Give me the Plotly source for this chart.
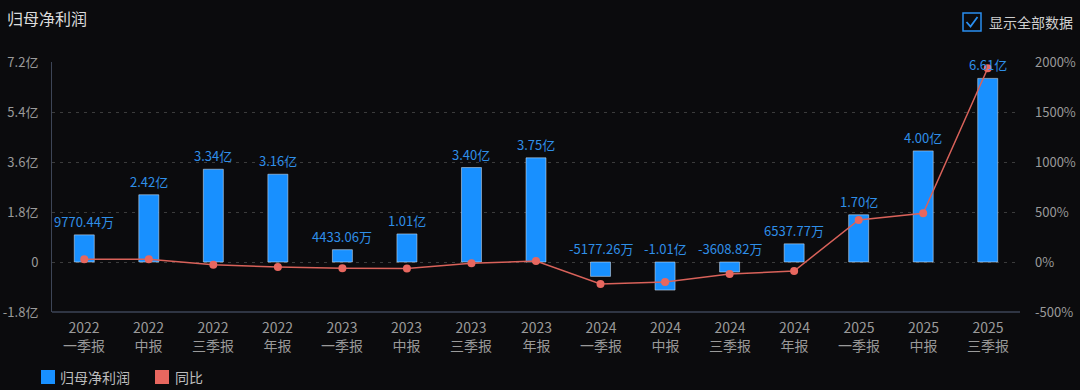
import plotly.graph_objects as go

# ---------------- data ----------------
years = ["2022", "2022", "2022", "2022", "2023", "2023", "2023", "2023",
         "2024", "2024", "2024", "2024", "2025", "2025", "2025"]
periods = ["一季报", "中报", "三季报", "年报", "一季报", "中报", "三季报", "年报",
           "一季报", "中报", "三季报", "年报", "一季报", "中报", "三季报"]
profit_yi = [0.977044, 2.42, 3.34, 3.16, 0.443306, 1.01, 3.40, 3.75,
             -0.517726, -1.01, -0.360882, 0.653777, 1.70, 4.00, 6.61]
profit_labels = ["9770.44万", "2.42亿", "3.34亿", "3.16亿", "4433.06万", "1.01亿",
                 "3.40亿", "3.75亿", "-5177.26万", "-1.01亿", "-3608.82万",
                 "6537.77万", "1.70亿", "4.00亿", "6.61亿"]
yoy_pct = [27, 28, -27, -50, -63, -65, -13, 10, -220, -200, -120, -90, 420, 487, 1937]
left_ticks = [-1.8, 0, 1.8, 3.6, 5.4, 7.2]
left_tick_text = ["-1.8亿", "0", "1.8亿", "3.6亿", "5.4亿", "7.2亿"]
right_ticks = [-500, 0, 500, 1000, 1500, 2000]
right_tick_text = ["-500%", "0%", "500%", "1000%", "1500%", "2000%"]

cats = [f"{y}<br>{p}" for y, p in zip(years, periods)]

FONT = "Noto Sans CJK SC"
BG = "#0b0b0d"
BAR = "#1890ff"
LINE = "#d9625a"
LABEL = "#2f8fe8"
TICK = "#9a9a9a"

W, H = 1080, 390
L, R, T, B = 52, 60, 62, 78
PW, PH = W - L - R, H - T - B


def px(x):
    return (x - L) / PW


def py(y):
    return (H - B - y) / PH


fig = go.Figure()
fig.add_trace(go.Bar(x=cats, y=profit_yi, marker_color=BAR, width=0.31,
                     name="归母净利润", showlegend=False))
fig.add_trace(go.Scatter(x=cats, y=yoy_pct, yaxis="y2", mode="lines+markers",
                         line=dict(color=LINE, width=1.5),
                         marker=dict(color="#e8675f", size=8),
                         name="同比", showlegend=False))

ann = []
# bar value labels
for c, v, t in zip(cats, profit_yi, profit_labels):
    ann.append(dict(x=c, y=max(v, 0), xref="x", yref="y", text=t, showarrow=False,
                    yanchor="bottom", yshift=2,
                    font=dict(family=FONT, size=13, color=LABEL)))
# two-line category labels
for c in cats:
    ann.append(dict(x=c, y=py(336), xref="x", yref="paper", text=c, showarrow=False,
                    yanchor="middle", font=dict(family=FONT, size=14, color=TICK)))
# title
ann.append(dict(x=px(5), y=py(18), xref="paper", yref="paper", text="归母净利润",
                showarrow=False, xanchor="left", yanchor="middle",
                font=dict(family=FONT, size=16, color="#dcdcdc")))
# checkbox text
ann.append(dict(x=px(987), y=py(22), xref="paper", yref="paper", text="显示全部数据",
                showarrow=False, xanchor="left", yanchor="middle",
                font=dict(family=FONT, size=14, color="#cfcfcf")))
# bottom legend texts
ann.append(dict(x=px(58), y=py(377), xref="paper", yref="paper", text="归母净利润",
                showarrow=False, xanchor="left", yanchor="middle",
                font=dict(family=FONT, size=14, color="#bdbdbd")))
ann.append(dict(x=px(173), y=py(377), xref="paper", yref="paper", text="同比",
                showarrow=False, xanchor="left", yanchor="middle",
                font=dict(family=FONT, size=14, color="#bdbdbd")))

shapes = [
    # checkbox
    dict(type="rect", xref="paper", yref="paper", x0=px(963), x1=px(981),
         y0=py(31), y1=py(13), line=dict(color="#2a8ff0", width=1.5)),
    dict(type="path", xref="paper", yref="paper",
         path=f"M {px(966.5)} {py(22)} L {px(970.5)} {py(26.5)} L {px(977.5)} {py(17)}",
         line=dict(color="#2a8ff0", width=1.8)),
    # legend swatches
    dict(type="rect", xref="paper", yref="paper", x0=px(41), x1=px(55),
         y0=py(384), y1=py(370), fillcolor=BAR, line=dict(width=0)),
    dict(type="rect", xref="paper", yref="paper", x0=px(155), x1=px(169),
         y0=py(384), y1=py(370), fillcolor="#e8675f", line=dict(width=0)),
    # bottom axis line
    dict(type="line", xref="paper", yref="paper", x0=0, x1=1, y0=0, y1=0,
         line=dict(color="#3d4556", width=1.5)),
]

fig.update_layout(
    width=W, height=H,
    margin=dict(l=L, r=R, t=T, b=B, autoexpand=False),
    paper_bgcolor=BG, plot_bgcolor=BG,
    font=dict(family=FONT, color=TICK),
    showlegend=False,
    annotations=ann,
    shapes=shapes,
    xaxis=dict(type="category", range=[-0.5, len(cats) - 0.5],
               showticklabels=False, showgrid=False,
               showline=False, ticks="", zeroline=False, automargin=False),
    yaxis=dict(range=[-1.8, 7.2], tickvals=left_ticks, ticktext=left_tick_text,
               showgrid=True, gridcolor="#3c3c3c", griddash="3px,5px", gridwidth=1,
               zeroline=False, showline=True, linecolor="#3d4556", linewidth=1,
               ticks="", ticklabelstandoff=10, automargin=False,
               tickfont=dict(family=FONT, size=13, color=TICK)),
    yaxis2=dict(range=[-500, 2000], tickvals=right_ticks, ticktext=right_tick_text,
                overlaying="y", side="right", showgrid=False, zeroline=False,
                showline=False, ticks="", ticklabelstandoff=14, automargin=False,
                tickfont=dict(family=FONT, size=13, color=TICK)),
)

fig.write_html("out.html", config={"displayModeBar": False},
               post_script="document.body.style.margin='0';document.body.style.background='#0b0b0d';")
